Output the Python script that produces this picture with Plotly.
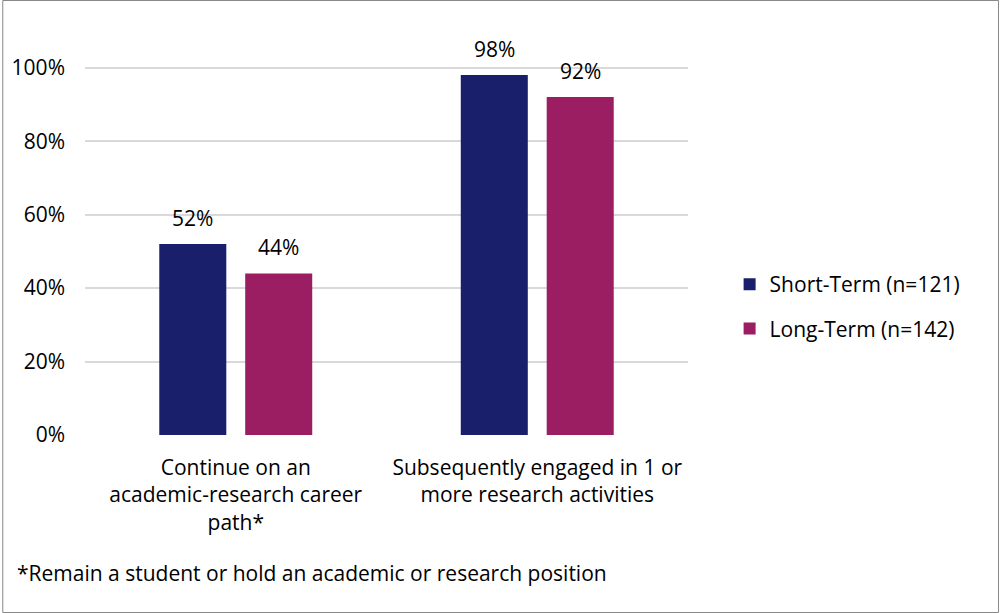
import plotly.graph_objects as go

categories = ["Continue on an<br>academic-research career<br>path*",
              "Subsequently engaged in 1 or<br>more research activities"]
short_term = [52, 98]
long_term = [44, 92]
series_names = ["Short-Term (n=121)", "Long-Term (n=142)"]
colors = ["#1a1f6b", "#9b1d62"]
tick_vals = [0, 20, 40, 60, 80, 100]
tick_text = [f"{v}%" for v in tick_vals]
footnote = "*Remain a student or hold an academic or research position"

font = "Open Sans, Liberation Sans, sans-serif"

fig = go.Figure()
for i, (name, vals) in enumerate(zip(series_names, [short_term, long_term])):
    fig.add_trace(go.Bar(x=categories, y=vals, name=name, legendgroup=name,
                         marker=dict(color=colors[i], line=dict(width=0))))
    # value labels sit a little above each bar
    for cat, v in zip(categories, vals):
        fig.add_annotation(x=cat, y=v, text=f"{v}%", showarrow=False,
                           xshift=-43 if i == 0 else 43, yshift=10,
                           yanchor="bottom", font=dict(size=21, color="black"))

fig.update_layout(
    width=1000, height=613,
    margin=dict(l=83, r=312, t=31, b=178),
    paper_bgcolor="white", plot_bgcolor="white",
    font=dict(family=font, size=21, color="black"),
    barmode="group", bargap=0.43, bargroupgap=0.22,
    showlegend=True,
    legend=dict(x=1.069, y=0.318, xanchor="left", yanchor="middle",
                font=dict(size=21), tracegroupgap=14, traceorder="grouped"),
    xaxis=dict(showline=False, ticks="", tickfont=dict(size=21),
               ticklabelstandoff=18),
    yaxis=dict(range=[0, 110], tickvals=tick_vals, ticktext=tick_text,
               showgrid=True, gridcolor="#d9d9d9", gridwidth=1.5,
               zeroline=False, showline=False, tickfont=dict(size=21),
               ticklabelstandoff=19),
)

fig.add_annotation(text=footnote, xref="paper", yref="paper",
                   x=-70 / 605, y=-138 / 404, xanchor="left", yanchor="middle",
                   showarrow=False, font=dict(size=21))

fig.add_shape(type="rect", xref="paper", yref="paper",
              x0=-82.5 / 605, x1=1 + 311.5 / 605, y0=-177.5 / 404, y1=1 + 30.5 / 404,
              line=dict(color="#888888", width=1))

fig.write_html("out.html", config={"displayModeBar": False},
               post_script="document.body.style.margin='0';")
